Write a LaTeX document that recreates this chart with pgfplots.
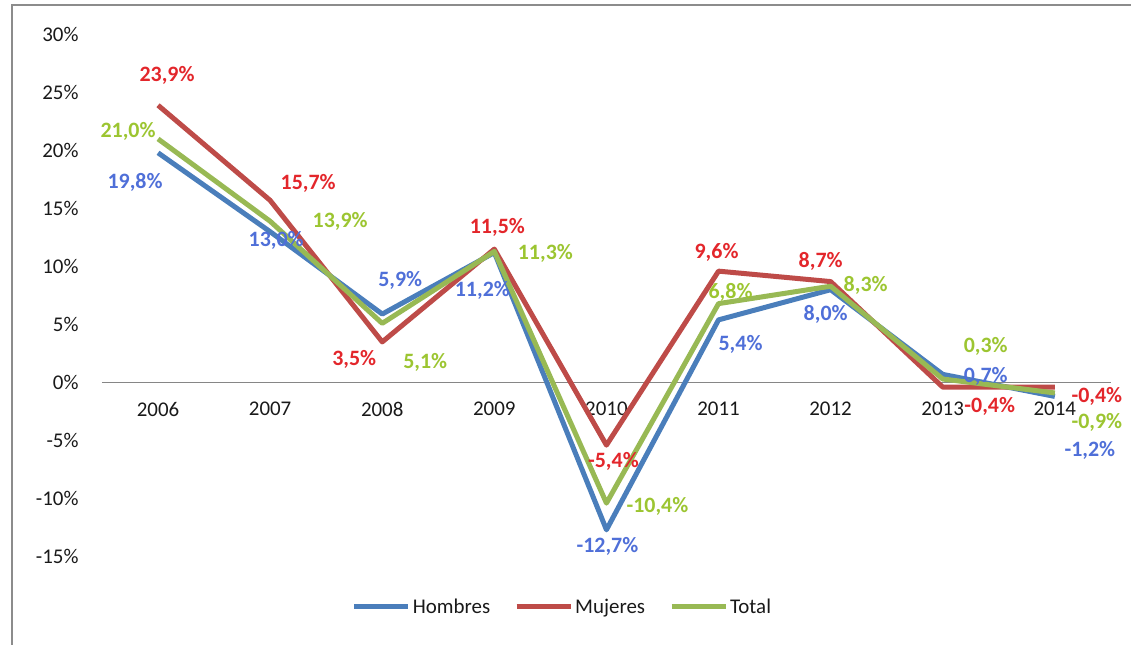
\documentclass[border=0pt]{standalone}
\usepackage{pgfplots}
\pgfplotsset{compat=1.18}
\usepackage{pgfplotstable}
\usepackage{fontspec}
\setmainfont{Carlito}

\definecolor{lineH}{HTML}{4A7EBB}
\definecolor{lineM}{HTML}{BE4B48}
\definecolor{lineT}{HTML}{98B954}
\definecolor{labH}{HTML}{4F6FD8}
\definecolor{labM}{HTML}{E3262B}
\definecolor{labT}{HTML}{9CC531}
\definecolor{framec}{HTML}{8C8C8C}
\definecolor{zeroc}{HTML}{868686}

% year, value (%), label offset dx / dy in bp (dy upwards)
\pgfplotstableread{
year val dx dy
2006 19.8 -23 -30
2007 13.0 6 -9
2008 5.9 18 34
2009 11.2 -12 -38
2010 -12.7 1 -17
2011 5.4 22 -25
2012 8.0 -5 -25
2013 0.7 43 -2
2014 -1.2 35 -54
}\hombres

\pgfplotstableread{
year val dx dy
2006 23.9 9 30
2007 15.7 38 17
2008 3.5 -28 -18
2009 11.5 3 22
2010 -5.4 7 -16
2011 9.6 -2 19
2012 8.7 -10 20
2013 -0.4 47 -19
2014 -0.4 42 -9
}\mujeres

\pgfplotstableread{
year val dx dy
2006 21.0 -30 7
2007 13.9 70 0
2008 5.1 43 -39
2009 11.3 51 -2
2010 -10.4 51 -3
2011 6.8 12 11
2012 8.3 35 1
2013 0.3 43 33
2014 -0.9 42 -29
}\total

\pgfplotsset{
  lbl/.style={
    draw=none, mark=none, forget plot,
    nodes near coords={\pgfmathprintnumber[fixed,fixed zerofill,precision=1,use comma]{\pgfplotspointmeta}\%},
    visualization depends on={\thisrow{dx}\as\dx},
    visualization depends on={\thisrow{dy}\as\dy},
    every node near coord/.append style={anchor=center, inner sep=0pt,
      xshift=\dx*1bp, yshift=\dy*1bp,
      font=\fontsize{22}{22}\selectfont\bfseries, text=#1},
  },
  serie/.style={#1, line width=5bp, line join=round, mark=none},
}

\begin{document}
\begin{tikzpicture}
\useasboundingbox (-102bp,-88.5bp) rectangle (1029bp,556.5bp);
\draw[framec, line width=2bp] (-90bp,-88.5bp) -- (-90bp,551.5bp) -- (1029bp,551.5bp);
\begin{axis}[
  at={(0,0)}, anchor=south west,
  scale only axis, width=1009bp, height=522bp,
  xmin=2005.5, xmax=2014.5, ymin=-15, ymax=30,
  axis x line=middle, axis y line=left,
  hide obscured x ticks=false, hide obscured y ticks=false,
  y axis line style={draw=none},
  x axis line style={draw=zeroc, line width=1.5bp, -},
  major tick length=0pt,
  xtick={2006,...,2014},
  xticklabels={2006,2007,2008,2009,2010,2011,2012,2013,2014},
  ytick={-15,-10,...,30},
  yticklabel={\pgfmathprintnumber{\tick}\%},
  /pgf/number format/assume math mode=true,
  tick label style={font=\fontsize{21}{21}\selectfont, text=black!90},
  yticklabel style={xshift=-20bp},
  xticklabel style={yshift=-16bp},
  clip=false,
  legend columns=3,
  legend style={at={(0.4564,-0.0967)}, anchor=center, draw=none, fill=none,
    font=\fontsize{21}{21}\selectfont, text=black!90,
    /tikz/every even column/.append style={column sep=22bp}},
  legend image code/.code={\draw[#1] (0bp,0bp) -- (54bp,0bp);},
]
\addplot[serie=lineH] table[x=year,y=val] {\hombres};
\addplot[serie=lineM] table[x=year,y=val] {\mujeres};
\addplot[serie=lineT] table[x=year,y=val] {\total};
\legend{Hombres, Mujeres, Total}
% data labels on top of all lines
\addplot[lbl=labH] table[x=year,y=val] {\hombres};
\addplot[lbl=labM] table[x=year,y=val] {\mujeres};
\addplot[lbl=labT] table[x=year,y=val] {\total};
\end{axis}
\end{tikzpicture}
\end{document}
